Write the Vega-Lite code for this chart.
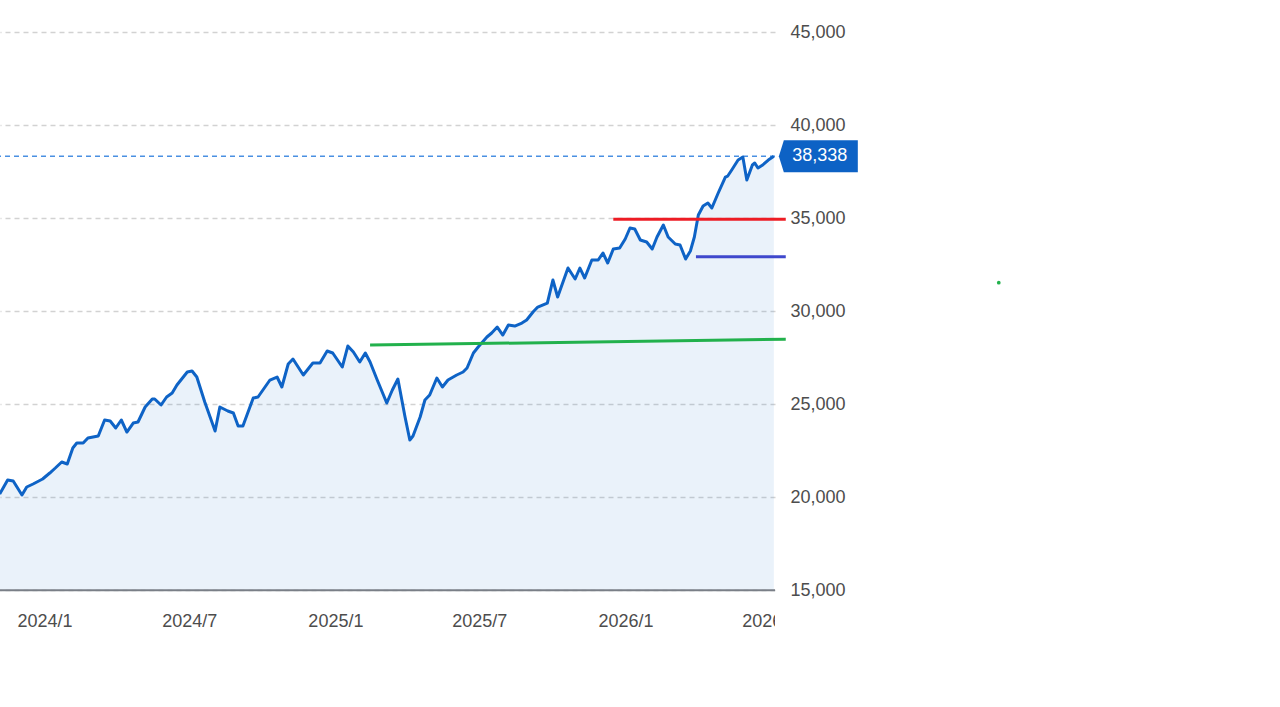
{
  "$schema": "https://vega.github.io/schema/vega-lite/v6.json",
  "width": 775,
  "height": 640,
  "autosize": {"type": "none"},
  "padding": {"left": 0, "top": 0, "right": 505, "bottom": 67},
  "background": "white",
  "config": {"view": {"stroke": null}, "font": "Liberation Sans"},
  "data": {"values": [
      {"date": "2023-11-05", "value": 20177},
      {"date": "2023-11-15", "value": 20930},
      {"date": "2023-11-22", "value": 20876},
      {"date": "2023-12-03", "value": 20124},
      {"date": "2023-12-09", "value": 20554},
      {"date": "2023-12-17", "value": 20715},
      {"date": "2023-12-29", "value": 20984},
      {"date": "2024-01-07", "value": 21306},
      {"date": "2024-01-14", "value": 21575},
      {"date": "2024-01-22", "value": 21898},
      {"date": "2024-01-29", "value": 21790},
      {"date": "2024-02-05", "value": 22650},
      {"date": "2024-02-10", "value": 22919},
      {"date": "2024-02-18", "value": 22919},
      {"date": "2024-02-24", "value": 23188},
      {"date": "2024-03-08", "value": 23295},
      {"date": "2024-03-16", "value": 24156},
      {"date": "2024-03-23", "value": 24102},
      {"date": "2024-03-30", "value": 23725},
      {"date": "2024-04-06", "value": 24156},
      {"date": "2024-04-13", "value": 23510},
      {"date": "2024-04-21", "value": 23994},
      {"date": "2024-04-27", "value": 24048},
      {"date": "2024-05-06", "value": 24854},
      {"date": "2024-05-15", "value": 25284},
      {"date": "2024-05-18", "value": 25284},
      {"date": "2024-05-26", "value": 24962},
      {"date": "2024-06-02", "value": 25392},
      {"date": "2024-06-09", "value": 25607},
      {"date": "2024-06-15", "value": 26037},
      {"date": "2024-06-28", "value": 26736},
      {"date": "2024-07-04", "value": 26790},
      {"date": "2024-07-10", "value": 26467},
      {"date": "2024-07-20", "value": 25123},
      {"date": "2024-08-02", "value": 23564},
      {"date": "2024-08-08", "value": 24854},
      {"date": "2024-08-18", "value": 24639},
      {"date": "2024-08-25", "value": 24532},
      {"date": "2024-08-31", "value": 23833},
      {"date": "2024-09-06", "value": 23833},
      {"date": "2024-09-19", "value": 25338},
      {"date": "2024-09-25", "value": 25392},
      {"date": "2024-10-10", "value": 26306},
      {"date": "2024-10-19", "value": 26467},
      {"date": "2024-10-25", "value": 25930},
      {"date": "2024-11-02", "value": 27166},
      {"date": "2024-11-08", "value": 27435},
      {"date": "2024-11-21", "value": 26575},
      {"date": "2024-12-03", "value": 27220},
      {"date": "2024-12-12", "value": 27220},
      {"date": "2024-12-21", "value": 27865},
      {"date": "2024-12-28", "value": 27758},
      {"date": "2025-01-09", "value": 27005},
      {"date": "2025-01-16", "value": 28134},
      {"date": "2025-01-23", "value": 27811},
      {"date": "2025-01-31", "value": 27274},
      {"date": "2025-02-07", "value": 27758},
      {"date": "2025-02-13", "value": 27274},
      {"date": "2025-02-22", "value": 26306},
      {"date": "2025-03-06", "value": 25069},
      {"date": "2025-03-13", "value": 25768},
      {"date": "2025-03-20", "value": 26360},
      {"date": "2025-03-29", "value": 24317},
      {"date": "2025-04-04", "value": 23080},
      {"date": "2025-04-08", "value": 23295},
      {"date": "2025-04-17", "value": 24317},
      {"date": "2025-04-23", "value": 25230},
      {"date": "2025-04-29", "value": 25499},
      {"date": "2025-05-08", "value": 26413},
      {"date": "2025-05-15", "value": 25930},
      {"date": "2025-05-22", "value": 26306},
      {"date": "2025-06-02", "value": 26575},
      {"date": "2025-06-10", "value": 26736},
      {"date": "2025-06-15", "value": 26951},
      {"date": "2025-06-23", "value": 27758},
      {"date": "2025-06-29", "value": 28080},
      {"date": "2025-07-10", "value": 28618},
      {"date": "2025-07-16", "value": 28833},
      {"date": "2025-07-23", "value": 29155},
      {"date": "2025-07-30", "value": 28725},
      {"date": "2025-08-06", "value": 29263},
      {"date": "2025-08-14", "value": 29209},
      {"date": "2025-08-23", "value": 29370},
      {"date": "2025-08-29", "value": 29531},
      {"date": "2025-09-06", "value": 29962},
      {"date": "2025-09-12", "value": 30230},
      {"date": "2025-09-24", "value": 30445},
      {"date": "2025-10-01", "value": 31682},
      {"date": "2025-10-07", "value": 30768},
      {"date": "2025-10-20", "value": 32327},
      {"date": "2025-10-29", "value": 31736},
      {"date": "2025-11-04", "value": 32327},
      {"date": "2025-11-10", "value": 31790},
      {"date": "2025-11-19", "value": 32758},
      {"date": "2025-11-27", "value": 32758},
      {"date": "2025-12-03", "value": 33134},
      {"date": "2025-12-09", "value": 32596},
      {"date": "2025-12-16", "value": 33349},
      {"date": "2025-12-24", "value": 33400},
      {"date": "2025-12-31", "value": 33887},
      {"date": "2026-01-06", "value": 34478},
      {"date": "2026-01-12", "value": 34424},
      {"date": "2026-01-19", "value": 33833},
      {"date": "2026-01-27", "value": 33725},
      {"date": "2026-02-03", "value": 33349},
      {"date": "2026-02-09", "value": 33994},
      {"date": "2026-02-17", "value": 34640},
      {"date": "2026-02-23", "value": 33994},
      {"date": "2026-03-04", "value": 33618},
      {"date": "2026-03-10", "value": 33564},
      {"date": "2026-03-17", "value": 32812},
      {"date": "2026-03-23", "value": 33242},
      {"date": "2026-03-28", "value": 33994},
      {"date": "2026-04-02", "value": 35177},
      {"date": "2026-04-08", "value": 35661},
      {"date": "2026-04-14", "value": 35822},
      {"date": "2026-04-19", "value": 35553},
      {"date": "2026-04-27", "value": 36360},
      {"date": "2026-05-06", "value": 37220},
      {"date": "2026-05-09", "value": 37274},
      {"date": "2026-05-14", "value": 37597},
      {"date": "2026-05-22", "value": 38134},
      {"date": "2026-05-28", "value": 38296},
      {"date": "2026-06-02", "value": 37059},
      {"date": "2026-06-09", "value": 37866},
      {"date": "2026-06-12", "value": 37973},
      {"date": "2026-06-16", "value": 37704},
      {"date": "2026-06-22", "value": 37866},
      {"date": "2026-06-29", "value": 38134},
      {"date": "2026-07-06", "value": 38338}
  ]},
  "layer": [
    {
      "mark": {"type": "area", "color": "#166fc7", "fillOpacity": 0.09},
      "encoding": {
        "x": {
          "field": "date", "type": "temporal", "axis": null,
          "scale": {"type": "utc", "nice": false, "domain": [1699174800000, 1783422000000]}
        },
        "y": {
          "field": "value", "type": "quantitative", "stack": null,
          "scale": {"domain": [12328, 46737], "nice": false, "zero": false},
          "axis": {
            "orient": "right",
            "values": [15000, 20000, 25000, 30000, 35000, 40000, 45000],
            "format": ",.0f",
            "title": null,
            "domain": false,
            "ticks": false,
            "grid": true,
            "gridDash": [5, 4],
            "gridColor": "#d2d2d2",
            "gridWidth": 1.5,
            "labelPadding": 15,
            "labelFontSize": 18,
            "labelFont": "Liberation Sans",
            "labelColor": "#4d4d4d",
            "labelAlign": "left",
            "labelBaseline": "middle"
          }
        },
        "y2": {"datum": 15000}
      }
    },
    {
      "data": {"values": [{"price": 38338}]},
      "mark": {"type": "rule", "color": "#4a90e2", "strokeWidth": 1.5, "strokeDash": [5, 4]},
      "encoding": {"y": {"field": "price", "type": "quantitative"}}
    },
    {
      "mark": {"type": "line", "color": "#0e63c6", "strokeWidth": 3, "strokeJoin": "round"},
      "encoding": {
        "x": {"field": "date", "type": "temporal", "axis": null},
        "y": {"field": "value", "type": "quantitative"}
      }
    },
    {
      "data": {"values": [{"base": 15000}]},
      "mark": {"type": "rule", "color": "#7a7f87", "strokeWidth": 2},
      "encoding": {"y": {"field": "base", "type": "quantitative"}}
    },
    {
      "data": {"values": [
        {"name": "red", "x1": "2025-12-16", "x2": "2026-07-21", "y1": 34946, "y2": 34946},
        {"name": "blue", "x1": "2026-03-30", "x2": "2026-07-21", "y1": 32935, "y2": 32935},
        {"name": "green", "x1": "2025-02-13", "x2": "2026-07-21", "y1": 28183, "y2": 28500}
      ]},
      "mark": {"type": "rule", "strokeWidth": 3, "clip": false},
      "encoding": {
        "x": {"field": "x1", "type": "temporal", "axis": null},
        "x2": {"field": "x2"},
        "y": {"field": "y1", "type": "quantitative"},
        "y2": {"field": "y2"},
        "color": {
          "field": "name", "type": "nominal", "legend": null,
          "scale": {"domain": ["red", "blue", "green"], "range": ["#ED1C24", "#3F48CC", "#22B14C"]}
        }
      }
    },
    {
      "data": {"values": [{"date": "2027-04-15", "value": 31538}]},
      "mark": {"type": "point", "filled": true, "size": 14, "color": "#22B14C", "opacity": 1, "clip": false},
      "encoding": {
        "x": {"field": "date", "type": "temporal", "axis": null},
        "y": {"field": "value", "type": "quantitative"}
      }
    },
    {
      "data": {"values": [{"date": "2026-07-06", "value": 38338, "label": "38,338"}]},
      "mark": {
        "type": "point", "filled": true, "opacity": 1, "clip": false,
        "shape": "M0.119,0L0.238,-0.381L2,-0.381L2,0.381L0.238,0.381Z",
        "size": 7056, "color": "#0d62c5"
      },
      "encoding": {
        "x": {"field": "date", "type": "temporal", "axis": null},
        "y": {"field": "value", "type": "quantitative"}
      }
    },
    {
      "data": {"values": [{"date": "2026-07-06", "value": 38338, "label": "38,338"}]},
      "mark": {"type": "text", "color": "white", "fontSize": 18, "font": "Liberation Sans", "align": "center", "baseline": "middle", "dx": 46, "clip": false},
      "encoding": {
        "x": {"field": "date", "type": "temporal", "axis": null},
        "y": {"field": "value", "type": "quantitative"},
        "text": {"field": "label", "type": "nominal"}
      }
    },
    {
      "data": {"values": [
        {"date": "2024-01-01", "label": "2024/1"},
        {"date": "2024-07-01", "label": "2024/7"},
        {"date": "2025-01-01", "label": "2025/1"},
        {"date": "2025-07-01", "label": "2025/7"},
        {"date": "2026-01-01", "label": "2026/1"},
        {"date": "2026-07-01", "label": "2026/7"}
      ]},
      "mark": {"type": "text", "color": "#4d4d4d", "fontSize": 18, "font": "Liberation Sans", "align": "center", "baseline": "middle", "clip": true},
      "encoding": {
        "x": {"field": "date", "type": "temporal", "axis": null},
        "y": {"datum": 13300, "type": "quantitative"},
        "text": {"field": "label", "type": "nominal"}
      }
    }
  ]
}
